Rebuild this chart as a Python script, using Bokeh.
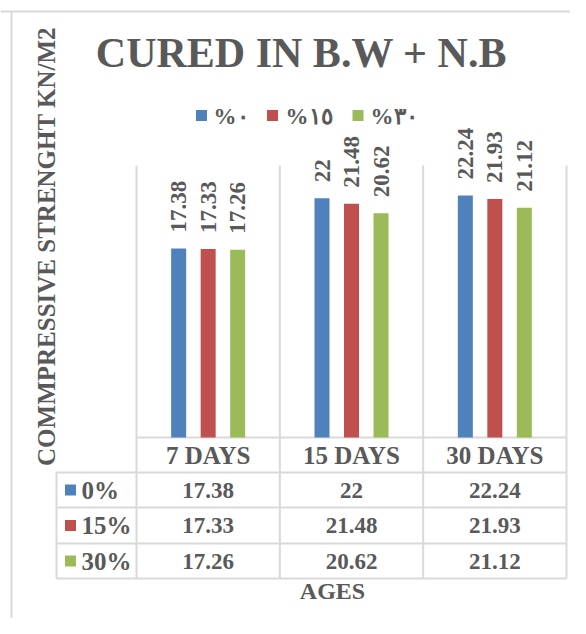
import math
from bokeh.plotting import figure
from bokeh.models import Range1d
from bokeh.core.properties import value
from bokeh.embed import file_html
from bokeh.resources import INLINE

# ---------------- data ----------------
categories = ["7 DAYS", "15 DAYS", "30 DAYS"]
series_labels = ["0%", "15%", "30%"]
legend_labels = ["%\u0660", "%\u0661\u0665", "%\u0663\u0660"]
values_0 = [17.38, 22, 22.24]
values_15 = [17.33, 21.48, 21.93]
values_30 = [17.26, 20.62, 21.12]
series_values = [values_0, values_15, values_30]
colors = ["#4F81BD", "#C0504D", "#9BBB59"]
title_text = "CURED IN B.W + N.B"
y_title = "COMMPRESSIVE STRENGHT KN/M2"
x_title = "AGES"
y_max = 25

# ---------------- layout (reference pixel geometry) ----------------
W, H = 570, 618
OFF = 0
PLOT_L, PLOT_R = 136, 566
PLOT_T, PLOT_B = 165, 437
ppx = (PLOT_R - PLOT_L) / len(categories)
ppy = (PLOT_B - PLOT_T) / y_max


def X(rx):
    return (rx - PLOT_L) / ppx


def Y(ry):
    return (PLOT_B - ry) / ppy


FONT = value("Liberation Serif")
TXT = "#595959"
GRID = "#D9D9D9"

p = figure(width=W, height=H, output_backend="svg", toolbar_location=None,
           x_range=Range1d(X(OFF), X(OFF + W)), y_range=Range1d(Y(OFF + H), Y(OFF)),
           min_border=0)
p.axis.visible = False
p.grid.visible = False
p.outline_line_color = None
p.background_fill_color = "white"
p.border_fill_color = "white"

# outer chart border (partially visible)
p.segment(x0=[X(OFF), X(11)], y0=[Y(11), Y(11)], x1=[X(OFF + W), X(11)], y1=[Y(11), Y(OFF + H)],
          line_color=GRID, line_width=2)

# gridlines / data table lines
n = len(categories)
row_lines = [472, 507, 543, 578]
vx0 = [float(i) for i in range(n + 1)] + [X(56)]
vy0 = [y_max] * (n + 1) + [Y(472)]
vy1 = [Y(578)] * (n + 2)
p.segment(x0=vx0, y0=vy0, x1=vx0, y1=vy1, line_color=GRID, line_width=2)
hx0 = [0.0] + [X(56)] * len(row_lines)
hy = [0.0] + [Y(r) for r in row_lines]
p.segment(x0=hx0, y0=hy, x1=[float(n)] * len(hy), y1=hy, line_color=GRID, line_width=2)

# bars and rotated value labels
offset = 29.5 / ppx
bar_w = 15 / ppx
for s, vals in enumerate(series_values):
    xs = [i + 0.5 + (s - 1) * offset for i in range(n)]
    p.vbar(x=xs, top=vals, bottom=0, width=bar_w, fill_color=colors[s], line_color=None)
    p.text(x=xs, y=[v + 16 / ppy for v in vals], text=[f"{v:g}" for v in vals],
           angle=math.pi / 2, text_align="left", text_baseline="middle",
           text_font=FONT, text_font_style="bold", text_font_size="23px", text_color=TXT)

# title
p.text(x=[X(301)], y=[Y(52)], text=[title_text], text_align="center", text_baseline="middle",
       text_font=FONT, text_font_style="bold", text_font_size="42px", text_color=TXT)

# legend
leg_sq_x = [201, 272, 357.5]
leg_tx_x = [213, 285, 370]
p.scatter(x=[X(v) for v in leg_sq_x], y=[Y(115)] * 3, marker="square", size=11,
          fill_color=colors, line_color=None)
p.text(x=[X(v) for v in leg_tx_x], y=[Y(116)] * 3, text=legend_labels,
       text_align="left", text_baseline="middle",
       text_font=FONT, text_font_style="bold", text_font_size="23px", text_color=TXT)

# y-axis title
p.text(x=[X(46)], y=[Y(246)], text=[y_title], angle=math.pi / 2, text_align="center",
       text_baseline="middle", text_font=FONT, text_font_style="bold",
       text_font_size="25px", text_color=TXT)

# data table header
p.text(x=[i + 0.5 for i in range(n)], y=[Y(455)] * n, text=categories,
       text_align="center", text_baseline="middle", text_font=FONT, text_font_style="bold",
       text_font_size="25px", text_color=TXT)

# data table rows
row_centers = [489.5, 525, 560.5]
for s, vals in enumerate(series_values):
    yc = Y(row_centers[s])
    p.text(x=[i + 0.5 for i in range(n)], y=[yc] * n, text=[f"{v:g}" for v in vals],
           text_align="center", text_baseline="middle", text_font=FONT, text_font_style="bold",
           text_font_size="23px", text_color=TXT)
p.scatter(x=[X(70)] * 3, y=[Y(r) for r in row_centers], marker="square", size=11,
          fill_color=colors, line_color=None)
p.text(x=[X(81)] * 3, y=[Y(r) for r in row_centers], text=series_labels,
       text_align="left", text_baseline="middle", text_font=FONT, text_font_style="bold",
       text_font_size="25px", text_color=TXT)

# x-axis title
p.text(x=[X(332)], y=[Y(590)], text=[x_title], text_align="center", text_baseline="middle",
       text_font=FONT, text_font_style="bold", text_font_size="24px", text_color=TXT)

open("out.html", "w").write(file_html(p, INLINE))
